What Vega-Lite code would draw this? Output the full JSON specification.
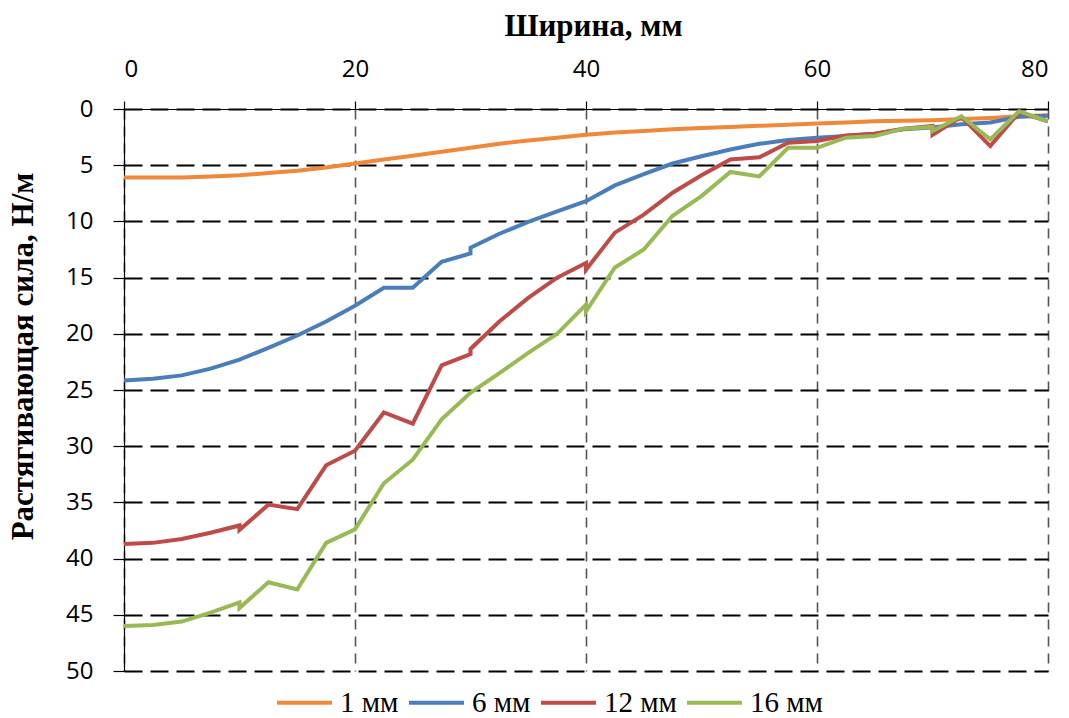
{
  "$schema": "https://vega.github.io/schema/vega-lite/v6.json",
  "width": 924,
  "height": 562,
  "autosize": {"type": "none"},
  "padding": {"left": 124, "top": 109, "right": 21, "bottom": 47},
  "background": "white",
  "config": {"view": {"stroke": null}},
  "data": {"values": [
    {"s":"1 мм","i":0,"x":0,"y":6.1},{"s":"1 мм","i":1,"x":2.5,"y":6.1},{"s":"1 мм","i":2,"x":5,"y":6.1},{"s":"1 мм","i":3,"x":7.5,"y":6.0},{"s":"1 мм","i":4,"x":10,"y":5.9},{"s":"1 мм","i":5,"x":12.5,"y":5.7},{"s":"1 мм","i":6,"x":15,"y":5.5},{"s":"1 мм","i":7,"x":17.5,"y":5.2},{"s":"1 мм","i":8,"x":20,"y":4.85},{"s":"1 мм","i":9,"x":22.5,"y":4.5},{"s":"1 мм","i":10,"x":25,"y":4.15},{"s":"1 мм","i":11,"x":27.5,"y":3.8},{"s":"1 мм","i":12,"x":30,"y":3.45},{"s":"1 мм","i":13,"x":32.5,"y":3.1},{"s":"1 мм","i":14,"x":35,"y":2.8},{"s":"1 мм","i":15,"x":37.5,"y":2.55},{"s":"1 мм","i":16,"x":40,"y":2.3},{"s":"1 мм","i":17,"x":42.5,"y":2.1},{"s":"1 мм","i":18,"x":45,"y":1.95},{"s":"1 мм","i":19,"x":47.5,"y":1.8},{"s":"1 мм","i":20,"x":50,"y":1.7},{"s":"1 мм","i":21,"x":52.5,"y":1.6},{"s":"1 мм","i":22,"x":55,"y":1.5},{"s":"1 мм","i":23,"x":57.5,"y":1.4},{"s":"1 мм","i":24,"x":60,"y":1.3},{"s":"1 мм","i":25,"x":62.5,"y":1.2},{"s":"1 мм","i":26,"x":65,"y":1.1},{"s":"1 мм","i":27,"x":67.5,"y":1.05},{"s":"1 мм","i":28,"x":70,"y":1.0},{"s":"1 мм","i":29,"x":72.5,"y":0.9},{"s":"1 мм","i":30,"x":75,"y":0.8},{"s":"1 мм","i":31,"x":77.5,"y":0.65},{"s":"1 мм","i":32,"x":80,"y":0.55},

    {"s":"6 мм","i":0,"x":0,"y":24.15},{"s":"6 мм","i":1,"x":2.5,"y":24.0},{"s":"6 мм","i":2,"x":5,"y":23.7},{"s":"6 мм","i":3,"x":7.5,"y":23.1},{"s":"6 мм","i":4,"x":10,"y":22.3},{"s":"6 мм","i":5,"x":12.5,"y":21.25},{"s":"6 мм","i":6,"x":15,"y":20.15},{"s":"6 мм","i":7,"x":17.5,"y":18.9},{"s":"6 мм","i":8,"x":20,"y":17.5},{"s":"6 мм","i":9,"x":22.5,"y":15.9},{"s":"6 мм","i":10,"x":25,"y":15.9},{"s":"6 мм","i":11,"x":27.5,"y":13.6},{"s":"6 мм","i":12,"x":30,"y":12.85},{"s":"6 мм","i":13,"x":30,"y":12.35},{"s":"6 мм","i":14,"x":32.5,"y":11.1},{"s":"6 мм","i":15,"x":35,"y":10.05},{"s":"6 мм","i":16,"x":37.5,"y":9.1},{"s":"6 мм","i":17,"x":40,"y":8.2},{"s":"6 мм","i":18,"x":42.5,"y":6.8},{"s":"6 мм","i":19,"x":45,"y":5.8},{"s":"6 мм","i":20,"x":47.5,"y":4.85},{"s":"6 мм","i":21,"x":50,"y":4.2},{"s":"6 мм","i":22,"x":52.5,"y":3.6},{"s":"6 мм","i":23,"x":55,"y":3.1},{"s":"6 мм","i":24,"x":57.5,"y":2.75},{"s":"6 мм","i":25,"x":60,"y":2.55},{"s":"6 мм","i":26,"x":62.5,"y":2.4},{"s":"6 мм","i":27,"x":65,"y":2.2},{"s":"6 мм","i":28,"x":67.5,"y":1.8},{"s":"6 мм","i":29,"x":70,"y":1.65},{"s":"6 мм","i":30,"x":72.5,"y":1.35},{"s":"6 мм","i":31,"x":75,"y":1.2},{"s":"6 мм","i":32,"x":77.5,"y":0.7},{"s":"6 мм","i":33,"x":80,"y":0.6},

    {"s":"12 мм","i":0,"x":0,"y":38.7},{"s":"12 мм","i":1,"x":2.5,"y":38.6},{"s":"12 мм","i":2,"x":5,"y":38.25},{"s":"12 мм","i":3,"x":7.5,"y":37.7},{"s":"12 мм","i":4,"x":10,"y":37.05},{"s":"12 мм","i":5,"x":10,"y":37.45},{"s":"12 мм","i":6,"x":12.5,"y":35.2},{"s":"12 мм","i":7,"x":15,"y":35.6},{"s":"12 мм","i":8,"x":17.5,"y":31.7},{"s":"12 мм","i":9,"x":20,"y":30.4},{"s":"12 мм","i":10,"x":22.5,"y":27.0},{"s":"12 мм","i":11,"x":25,"y":28.0},{"s":"12 мм","i":12,"x":27.5,"y":22.8},{"s":"12 мм","i":13,"x":30,"y":21.8},{"s":"12 мм","i":14,"x":30,"y":21.35},{"s":"12 мм","i":15,"x":32.5,"y":18.9},{"s":"12 мм","i":16,"x":35,"y":16.8},{"s":"12 мм","i":17,"x":37.5,"y":15.0},{"s":"12 мм","i":18,"x":40,"y":13.7},{"s":"12 мм","i":19,"x":40,"y":14.3},{"s":"12 мм","i":20,"x":42.5,"y":11.0},{"s":"12 мм","i":21,"x":45,"y":9.4},{"s":"12 мм","i":22,"x":47.5,"y":7.45},{"s":"12 мм","i":23,"x":50,"y":5.9},{"s":"12 мм","i":24,"x":52.5,"y":4.5},{"s":"12 мм","i":25,"x":55,"y":4.3},{"s":"12 мм","i":26,"x":57.5,"y":3.0},{"s":"12 мм","i":27,"x":60,"y":2.85},{"s":"12 мм","i":28,"x":62.5,"y":2.35},{"s":"12 мм","i":29,"x":65,"y":2.2},{"s":"12 мм","i":30,"x":67.5,"y":1.75},{"s":"12 мм","i":31,"x":70,"y":1.5},{"s":"12 мм","i":32,"x":70,"y":2.3},{"s":"12 мм","i":33,"x":72.5,"y":0.7},{"s":"12 мм","i":34,"x":75,"y":3.3},{"s":"12 мм","i":35,"x":77.5,"y":0.3},{"s":"12 мм","i":36,"x":80,"y":1.1},

    {"s":"16 мм","i":0,"x":0,"y":46.0},{"s":"16 мм","i":1,"x":2.5,"y":45.9},{"s":"16 мм","i":2,"x":5,"y":45.6},{"s":"16 мм","i":3,"x":7.5,"y":44.8},{"s":"16 мм","i":4,"x":10,"y":43.9},{"s":"16 мм","i":5,"x":10,"y":44.4},{"s":"16 мм","i":6,"x":12.5,"y":42.1},{"s":"16 мм","i":7,"x":15,"y":42.75},{"s":"16 мм","i":8,"x":17.5,"y":38.6},{"s":"16 мм","i":9,"x":20,"y":37.4},{"s":"16 мм","i":10,"x":22.5,"y":33.3},{"s":"16 мм","i":11,"x":25,"y":31.2},{"s":"16 мм","i":12,"x":27.5,"y":27.6},{"s":"16 мм","i":13,"x":30,"y":25.25},{"s":"16 мм","i":14,"x":32.5,"y":23.5},{"s":"16 мм","i":15,"x":35,"y":21.7},{"s":"16 мм","i":16,"x":37.5,"y":20.0},{"s":"16 мм","i":17,"x":40,"y":17.4},{"s":"16 мм","i":18,"x":40,"y":18.0},{"s":"16 мм","i":19,"x":42.5,"y":14.1},{"s":"16 мм","i":20,"x":45,"y":12.5},{"s":"16 мм","i":21,"x":47.5,"y":9.5},{"s":"16 мм","i":22,"x":50,"y":7.75},{"s":"16 мм","i":23,"x":52.5,"y":5.6},{"s":"16 мм","i":24,"x":55,"y":6.0},{"s":"16 мм","i":25,"x":57.5,"y":3.45},{"s":"16 мм","i":26,"x":60,"y":3.45},{"s":"16 мм","i":27,"x":62.5,"y":2.55},{"s":"16 мм","i":28,"x":65,"y":2.4},{"s":"16 мм","i":29,"x":67.5,"y":1.75},{"s":"16 мм","i":30,"x":70,"y":1.6},{"s":"16 мм","i":31,"x":70,"y":1.95},{"s":"16 мм","i":32,"x":72.5,"y":0.65},{"s":"16 мм","i":33,"x":75,"y":2.7},{"s":"16 мм","i":34,"x":77.5,"y":0.2},{"s":"16 мм","i":35,"x":80,"y":1.1}
  ]},
  "mark": {"type": "line", "strokeWidth": 4, "strokeJoin": "miter", "clip": true},
  "encoding": {
    "x": {
      "field": "x", "type": "quantitative",
      "scale": {"domain": [0, 80], "nice": false, "zero": false},
      "axis": {
        "orient": "top", "values": [0, 20, 40, 60, 80],
        "title": "Ширина,  мм", "titleFont": "Liberation Serif", "titleFontSize": 31, "titleFontWeight": "bold", "titleColor": "black",
        "titleX": 469, "titleY": -74, "titleBaseline": "alphabetic", "titleAlign": "center", "titleAnchor": null,
        "labelFont": "Open Sans", "labelFontSize": 24, "labelColor": "black", "labelPadding": 20,
        "tickSize": 8, "tickColor": "black", "tickWidth": 1.2,
        "domainColor": "black", "domainWidth": 1.2,
        "grid": true, "gridColor": "#555555", "gridWidth": 1.6, "gridDash": [10, 7]
      }
    },
    "y": {
      "field": "y", "type": "quantitative",
      "scale": {"domain": [0, 50], "reverse": true, "nice": false, "zero": false},
      "axis": {
        "values": [0, 5, 10, 15, 20, 25, 30, 35, 40, 45, 50],
        "title": "Растягивающая сила,  Н/м", "titleFont": "Liberation Serif", "titleFontSize": 31, "titleFontWeight": "bold", "titleColor": "black",
        "titleX": -101, "titleY": 247, "titleAngle": -90, "titleBaseline": "middle", "titleAlign": "center",
        "labelFont": "Open Sans", "labelFontSize": 24, "labelColor": "black", "labelPadding": 20,
        "tickSize": 11, "tickColor": "black", "tickWidth": 1.2,
        "domainColor": "black", "domainWidth": 1.2,
        "grid": true, "gridColor": "black", "gridWidth": 2.2, "gridDash": [18, 8]
      }
    },
    "color": {
      "field": "s", "type": "nominal",
      "scale": {"domain": ["1 мм", "6 мм", "12 мм", "16 мм"], "range": ["#F0883A", "#4A7EBB", "#BE4B48", "#98B954"]},
      "legend": {
        "orient": "none", "legendX": 151, "legendY": 564, "direction": "horizontal", "title": null,
        "symbolType": "stroke", "symbolSize": 3025, "symbolStrokeWidth": 4,
        "labelFont": "Liberation Serif", "labelFontSize": 29, "labelColor": "black", "labelOffset": 6,
        "columnPadding": 2, "symbolOffset": 0, "padding": 0
      }
    },
    "order": {"field": "i", "type": "quantitative"}
  }
}
